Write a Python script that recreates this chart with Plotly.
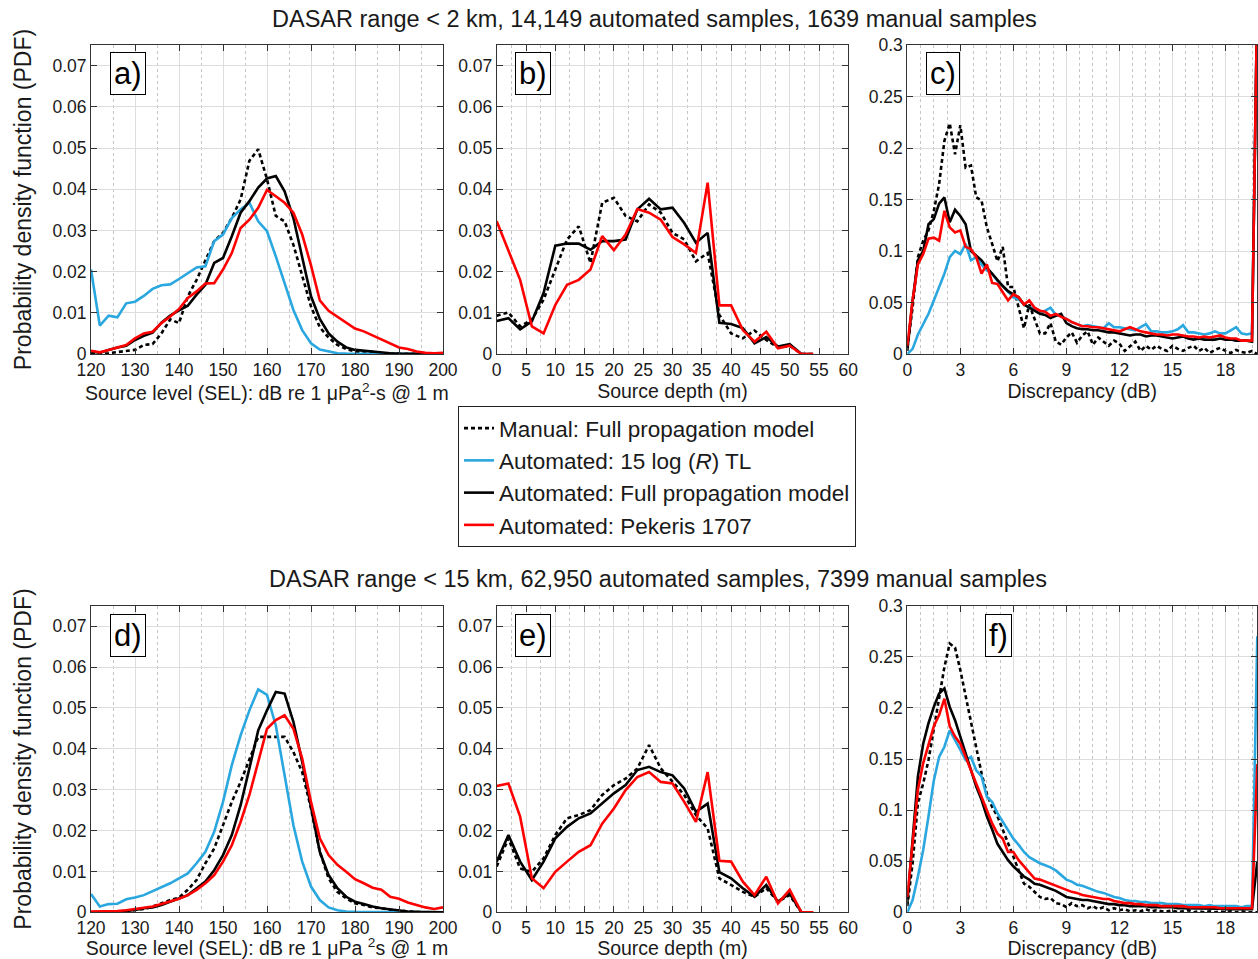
import plotly.graph_objects as go

# ---------------- data ----------------
x_sel = list(range(120, 201, 2))          # source level bins (dB)
x_depth = list(range(0, 55, 2))           # source depth bins (m)
x_disc = [0.0, 0.3, 0.6, 0.9, 1.2, 1.5, 1.8, 2.1, 2.4, 2.7, 3.0, 3.3, 3.6, 3.9, 4.2, 4.5, 4.8,
          5.1, 5.4, 5.7, 6.0, 6.3, 6.6, 6.9, 7.2, 7.5, 7.8, 8.1, 8.4, 8.7, 9.0, 9.3, 9.6, 9.9,
          10.2, 10.5, 10.8, 11.1, 11.4, 11.7, 12.0, 12.3, 12.6, 12.9, 13.2, 13.5, 13.8, 14.1,
          14.4, 14.7, 15.0, 15.3, 15.6, 15.9, 16.2, 16.5, 16.8, 17.1, 17.4, 17.7, 18.0, 18.3,
          18.6, 18.9, 19.2, 19.5, 19.8]

# Panel a (< 2 km) source level
man_a = [0, 0, 0.0002, 0.0005, 0.0008, 0.0010, 0.0022, 0.0024, 0.0050, 0.0084,
         0.0075, 0.0140, 0.0180, 0.0229, 0.0274, 0.0294, 0.0330, 0.0375, 0.0469, 0.0497,
         0.0424, 0.0335, 0.0322, 0.0265, 0.0190, 0.0115, 0.0065, 0.0040, 0.0022, 0.0012,
         0.0006, 0.0004, 0.0005, 0.0002, 0.0001, 0.0001, 0, 0, 0, 0, 0]
tl15_a = [0.0205, 0.0069, 0.0093, 0.0089, 0.0123, 0.0127, 0.0141, 0.0158, 0.0167, 0.0169,
          0.0182, 0.0197, 0.0210, 0.0213, 0.0274, 0.0290, 0.0330, 0.0351, 0.0367, 0.0322,
          0.0298, 0.0237, 0.0172, 0.0107, 0.0058, 0.0026, 0.0011, 0.0006, 0.0002, 0.0001,
          0.0001, 0.0001, 0, 0, 0, 0, 0, 0, 0, 0, 0]
full_a = [0.0006, 0.0003, 0.0010, 0.0016, 0.0020, 0.0034, 0.0044, 0.0052, 0.0076, 0.0093,
          0.0106, 0.0117, 0.0144, 0.0168, 0.0221, 0.0233, 0.0286, 0.0343, 0.0371, 0.0404,
          0.0426, 0.0432, 0.0395, 0.0330, 0.0235, 0.0140, 0.0085, 0.0050, 0.0030, 0.0016,
          0.0010, 0.0008, 0.0006, 0.0003, 0.0002, 0.0001, 0.0001, 0, 0, 0, 0]
pek_a = [0.0008, 0.0004, 0.0010, 0.0016, 0.0022, 0.0038, 0.0050, 0.0054, 0.0075, 0.0091,
         0.0109, 0.0136, 0.0152, 0.0171, 0.0172, 0.0205, 0.0245, 0.0306, 0.0326, 0.0355,
         0.0398, 0.0383, 0.0367, 0.0343, 0.0290, 0.0215, 0.0130, 0.0105, 0.0090, 0.0075,
         0.0062, 0.0055, 0.0045, 0.0035, 0.0026, 0.0016, 0.0012, 0.0006, 0.0003, 0.0002, 0.0003]

# Panel b (< 2 km) source depth
man_b = [0.0093, 0.0101, 0.0067, 0.0083, 0.0132, 0.0205, 0.0278, 0.0310, 0.0221, 0.0367,
         0.0379, 0.0335, 0.0322, 0.0363, 0.0343, 0.0294, 0.0278, 0.0225, 0.0245, 0.0095,
         0.0050, 0.0038, 0.0057, 0.0034, 0.0016, 0.0020, 0, 0]
full_b = [0.0080, 0.0087, 0.0060, 0.0079, 0.0148, 0.0263, 0.0268, 0.0268, 0.0253, 0.0274,
          0.0274, 0.0278, 0.0351, 0.0377, 0.0351, 0.0355, 0.0318, 0.0270, 0.0294, 0.0076,
          0.0073, 0.0063, 0.0026, 0.0041, 0.0018, 0.0024, 0, 0]
pek_b = [0.0322, 0.0253, 0.0180, 0.0067, 0.0050, 0.0119, 0.0168, 0.0180, 0.0205, 0.0286,
         0.0252, 0.0290, 0.0352, 0.0343, 0.0326, 0.0284, 0.0266, 0.0245, 0.0416, 0.0118,
         0.0118, 0.0058, 0.0030, 0.0054, 0.0014, 0.0020, 0, 0]

# Panel c (< 2 km) discrepancy
man_c = [0.006, 0.045, 0.094, 0.110, 0.120, 0.139, 0.165, 0.207, 0.224, 0.194, 0.222, 0.181,
         0.183, 0.152, 0.149, 0.123, 0.107, 0.090, 0.104, 0.065, 0.065, 0.045, 0.025, 0.048,
         0.035, 0.020,
         0.020, 0.030, 0.012, 0.009, 0.016, 0.021, 0.011, 0.018, 0.022, 0.009, 0.016, 0.012,
         0.008, 0.013, 0.010, 0.003, 0.008, 0.012, 0.003, 0.008, 0.004, 0.008, 0.005, 0.003,
         0.008, 0.005, 0.003, 0.006, 0.008, 0.003, 0.006, 0.001, 0.004, 0.006, 0.003, 0.001,
         0.004, 0.002, 0.001, 0.003, 0.0]
tl15_c = [0.0, 0.005, 0.019, 0.029, 0.039, 0.052, 0.065, 0.078, 0.094, 0.100, 0.097, 0.107,
          0.091, 0.094, 0.087, 0.081, 0.078, 0.071, 0.066, 0.060, 0.055, 0.053, 0.048, 0.045,
          0.044, 0.040,
          0.042, 0.045, 0.038, 0.037, 0.034, 0.031, 0.029, 0.027, 0.028, 0.027, 0.026, 0.025,
          0.030, 0.026, 0.026, 0.025, 0.024, 0.023, 0.026, 0.029, 0.022, 0.022, 0.021, 0.021,
          0.022, 0.024, 0.028, 0.021, 0.021, 0.020, 0.019, 0.020, 0.022, 0.020, 0.020, 0.023,
          0.026, 0.020, 0.019, 0.020, 0.35]
full_c = [0.003, 0.052, 0.091, 0.100, 0.126, 0.131, 0.146, 0.152, 0.128, 0.140, 0.134, 0.126,
          0.100, 0.095, 0.091, 0.084, 0.078, 0.071, 0.066, 0.061, 0.058, 0.055, 0.048, 0.045,
          0.042, 0.039,
          0.038, 0.035, 0.037, 0.039, 0.030, 0.027, 0.025, 0.024, 0.024, 0.023, 0.023, 0.022,
          0.021, 0.021, 0.020, 0.019, 0.018, 0.019, 0.019, 0.017, 0.018, 0.018, 0.017, 0.016,
          0.015, 0.016, 0.017, 0.015, 0.014, 0.015, 0.014, 0.014, 0.014, 0.015, 0.014, 0.014,
          0.013, 0.013, 0.013, 0.012, 0.35]
pek_c = [0.008, 0.052, 0.087, 0.097, 0.112, 0.113, 0.110, 0.139, 0.123, 0.118, 0.120, 0.104,
         0.102, 0.094, 0.078, 0.087, 0.069, 0.068, 0.060, 0.052, 0.058, 0.055, 0.048, 0.052,
         0.045, 0.042,
         0.041, 0.037, 0.039, 0.036, 0.034, 0.031, 0.029, 0.027, 0.027, 0.026, 0.026, 0.025,
         0.024, 0.023, 0.022, 0.024, 0.026, 0.024, 0.022, 0.021, 0.020, 0.019, 0.019, 0.018,
         0.019, 0.019, 0.018, 0.017, 0.017, 0.016, 0.017, 0.016, 0.017, 0.018, 0.016, 0.015,
         0.015, 0.013, 0.013, 0.013, 0.35]

# Panel d (< 15 km) source level
man_d = [0, 0, 0, 0, 0.0002, 0.0006, 0.0008, 0.0014, 0.0022, 0.0030,
         0.0036, 0.0055, 0.0079, 0.0120, 0.0156, 0.0213, 0.0270, 0.0319, 0.0376, 0.0429,
         0.0429, 0.0429, 0.0429, 0.0392, 0.0343, 0.0254, 0.0148, 0.0083, 0.0050, 0.0034,
         0.0022, 0.0018, 0.0012, 0.0010, 0.0006, 0.0004, 0.0002, 0.0001, 0, 0, 0]
tl15_d = [0.0045, 0.0014, 0.0020, 0.0021, 0.0032, 0.0036, 0.0042, 0.0052, 0.0060, 0.0071,
          0.0083, 0.0095, 0.0120, 0.0148, 0.0197, 0.0270, 0.0360, 0.0433, 0.0494, 0.0545,
          0.0532, 0.0457, 0.0335, 0.0213, 0.0124, 0.0063, 0.0030, 0.0012, 0.0005, 0.0002,
          0.0001, 0.0001, 0.0001, 0, 0, 0, 0, 0, 0, 0, 0]
full_d = [0.0, 0.0001, 0.0001, 0.0001, 0.0003, 0.0006, 0.0010, 0.0012, 0.0018, 0.0026,
          0.0034, 0.0042, 0.0059, 0.0075, 0.0103, 0.0140, 0.0189, 0.0262, 0.0352, 0.0445,
          0.0494, 0.0539, 0.0535, 0.0466, 0.0368, 0.0254, 0.0148, 0.0091, 0.0059, 0.0038,
          0.0026, 0.0020, 0.0014, 0.0010, 0.0007, 0.0004, 0.0002, 0.0001, 0.0001, 0, 0]
pek_d = [0.0002, 0.0002, 0.0002, 0.0003, 0.0005, 0.0008, 0.0011, 0.0014, 0.0020, 0.0026,
         0.0033, 0.0042, 0.0055, 0.0071, 0.0091, 0.0124, 0.0164, 0.0221, 0.0287, 0.0368,
         0.0449, 0.0470, 0.0482, 0.0449, 0.0376, 0.0270, 0.0181, 0.0140, 0.0116, 0.0099,
         0.0081, 0.0071, 0.0060, 0.0055, 0.0038, 0.0033, 0.0024, 0.0018, 0.0012, 0.0008, 0.0012]

# Panel e (< 15 km) source depth
man_e = [0.0112, 0.0181, 0.0107, 0.0099, 0.0132, 0.0189, 0.0230, 0.0238, 0.0250, 0.0287,
         0.0311, 0.0327, 0.0352, 0.0409, 0.0352, 0.0319, 0.0287, 0.0238, 0.0205, 0.0083,
         0.0067, 0.0050, 0.0038, 0.0059, 0.0026, 0.0042, 0, 0]
full_e = [0.0124, 0.0189, 0.0124, 0.0079, 0.0124, 0.0181, 0.0209, 0.0230, 0.0242, 0.0266,
          0.0291, 0.0311, 0.0348, 0.0356, 0.0343, 0.0335, 0.0303, 0.0246, 0.0266, 0.0098,
          0.0083, 0.0059, 0.0038, 0.0067, 0.0026, 0.0046, 0, 0]
pek_e = [0.0309, 0.0315, 0.0234, 0.0083, 0.0059, 0.0099, 0.0124, 0.0148, 0.0164, 0.0217,
         0.0254, 0.0299, 0.0331, 0.0343, 0.0319, 0.0315, 0.0270, 0.0221, 0.0343, 0.0126,
         0.0124, 0.0075, 0.0042, 0.0087, 0.0022, 0.0055, 0, 0]

# Panel f (< 15 km) discrepancy
man_f = [0.006, 0.048, 0.107, 0.126, 0.149, 0.178, 0.211, 0.240, 0.263, 0.259, 0.237, 0.211,
         0.185, 0.159, 0.136, 0.116, 0.103, 0.094, 0.081, 0.067, 0.054, 0.041, 0.028, 0.025,
         0.020, 0.015,
         0.013, 0.014, 0.009, 0.008, 0.005, 0.009, 0.006, 0.007, 0.004, 0.006, 0.003, 0.005,
         0.002, 0.004, 0.002, 0.003, 0.001, 0.002, 0.001, 0.003, 0.001, 0.002, 0.001, 0.001,
         0.002, 0.0, 0.001, 0.002, 0.0, 0.001, 0.0, 0.001, 0.0, 0.001, 0.0, 0.001, 0.0, 0.001,
         0.0, 0.0, 0.0]
tl15_f = [0.0, 0.012, 0.035, 0.061, 0.094, 0.129, 0.152, 0.162, 0.178, 0.169, 0.159, 0.149,
          0.152, 0.139, 0.133, 0.113, 0.108, 0.097, 0.089, 0.081, 0.072, 0.066, 0.059, 0.054,
          0.051, 0.048,
          0.046, 0.044, 0.041, 0.036, 0.032, 0.030, 0.027, 0.026, 0.024, 0.022, 0.020, 0.019,
          0.017, 0.015, 0.014, 0.012, 0.011, 0.011, 0.010, 0.010, 0.009, 0.009, 0.009, 0.008,
          0.008, 0.008, 0.007, 0.007, 0.007, 0.007, 0.006, 0.007, 0.006, 0.006, 0.006, 0.006,
          0.006, 0.005, 0.006, 0.006, 0.27]
full_f = [0.009, 0.074, 0.133, 0.165, 0.185, 0.201, 0.214, 0.219, 0.201, 0.188, 0.172, 0.156,
          0.139, 0.123, 0.110, 0.094, 0.081, 0.067, 0.059, 0.051, 0.045, 0.040, 0.035, 0.032,
          0.028, 0.027,
          0.025, 0.023, 0.021, 0.018, 0.015, 0.014, 0.013, 0.012, 0.012, 0.011, 0.010, 0.009,
          0.008, 0.008, 0.007, 0.007, 0.006, 0.006, 0.006, 0.006, 0.005, 0.005, 0.005, 0.005,
          0.005, 0.004, 0.004, 0.004, 0.004, 0.004, 0.004, 0.0035, 0.0035, 0.0035, 0.003, 0.003,
          0.003, 0.003, 0.003, 0.003, 0.05]
pek_f = [0.015, 0.064, 0.120, 0.146, 0.165, 0.182, 0.193, 0.209, 0.182, 0.172, 0.165, 0.152,
         0.139, 0.126, 0.113, 0.100, 0.087, 0.077, 0.072, 0.059, 0.059, 0.051, 0.045, 0.038,
         0.033, 0.032,
         0.030, 0.028, 0.026, 0.024, 0.022, 0.020, 0.019, 0.017, 0.016, 0.015, 0.014, 0.013,
         0.013, 0.011, 0.010, 0.009, 0.009, 0.008, 0.008, 0.007, 0.007, 0.007, 0.006, 0.006,
         0.006, 0.006, 0.006, 0.005, 0.005, 0.005, 0.005, 0.005, 0.005, 0.004, 0.004, 0.004,
         0.004, 0.004, 0.004, 0.004, 0.145]

series_names = ["Manual: Full propagation model",
                "Automated: 15 log (<i>R</i>) TL",
                "Automated: Full propagation model",
                "Automated: Pekeris 1707"]
top_title = "DASAR range < 2 km, 14,149 automated samples, 1639 manual samples"
bot_title = "DASAR range < 15 km, 62,950 automated samples, 7399 manual samples"

# ---------------- styling ----------------
FONT = "Liberation Sans, Arial, sans-serif"
BLUE = "#2AA7DF"
RED = "#FF0000"
BLACK = "#000000"
LW = 2.6
styles = [dict(color=BLACK, width=LW, dash="4px,3px"),
          dict(color=BLUE, width=LW),
          dict(color=BLACK, width=LW),
          dict(color=RED, width=LW)]

W, H = 1258, 959
colx = [(91, 443), (496.7, 848.3), (907.3, 1257.3)]
rowy = [(45, 354), (605.7, 912.3)]

fig = go.Figure()

panels = [
    (0, 0, x_sel, [man_a, tl15_a, full_a, pek_a], "a)", "Source level (SEL): dB re 1 μPa<sup>2</sup>-s @ 1 m"),
    (0, 1, x_depth, [man_b, None, full_b, pek_b], "b)", "Source depth (m)"),
    (0, 2, x_disc, [man_c, tl15_c, full_c, pek_c], "c)", "Discrepancy (dB)"),
    (1, 0, x_sel, [man_d, tl15_d, full_d, pek_d], "d)", "Source level (SEL): dB re 1 μPa <sup>2</sup>s @ 1 m"),
    (1, 1, x_depth, [man_e, None, full_e, pek_e], "e)", "Source depth (m)"),
    (1, 2, x_disc, [man_f, tl15_f, full_f, pek_f], "f)", "Discrepancy (dB)"),
]

xcfg = {0: dict(range=[120, 200], dtick=10, tick0=120, minor=5),
        1: dict(range=[0, 60], dtick=5, tick0=0, minor=2.5),
        2: dict(range=[0, 19.8], dtick=3, tick0=0, minor=0.75)}
ycfg = {0: dict(range=[0, 0.075], dtick=0.01), 1: dict(range=[0, 0.075], dtick=0.01),
        2: dict(range=[0, 0.3], dtick=0.05)}

label_pos = {"a)": (127.5, 73.5), "b)": (533, 73.5), "c)": (943, 73.5),
             "d)": (127.5, 635), "e)": (533, 635), "f)": (998.5, 635)}

annotations = []
for i, (r, c, xs, ser, lab, xtitle) in enumerate(panels):
    k = i + 1
    xa = "x" if k == 1 else f"x{k}"
    ya = "y" if k == 1 else f"y{k}"
    for j, ys in enumerate(ser):
        if ys is None:
            continue
        fig.add_trace(go.Scatter(x=xs, y=ys, mode="lines", line=styles[j],
                                 name=series_names[j], showlegend=(k == 1),
                                 xaxis=xa, yaxis=ya, cliponaxis=True))
    x0, x1 = colx[c]
    y0, y1 = rowy[r]
    xc = xcfg[c]
    yc = ycfg[c]
    axkey = "xaxis" if k == 1 else f"xaxis{k}"
    aykey = "yaxis" if k == 1 else f"yaxis{k}"
    fig.layout[axkey] = dict(
        domain=[x0 / W, x1 / W], anchor=ya, range=xc["range"], dtick=xc["dtick"],
        tick0=xc["tick0"], showgrid=True, gridcolor="#DDDDDD", gridwidth=1,
        zeroline=False, showline=True, linecolor="#333333", linewidth=1, mirror="allticks",
        ticks="inside", ticklen=6, tickcolor="#333333",
        tickfont=dict(family=FONT, size=17.5, color="#1a1a1a"),
        minor=dict(dtick=xc["minor"], tick0=xc["tick0"], showgrid=True, gridcolor="#C4C4C4",
                   griddash="dot", gridwidth=1, ticks=""),
        title=dict(text=xtitle, font=dict(family=FONT, size=19.5, color="#1a1a1a"), standoff=2),
        automargin=False)
    ydict = dict(
        domain=[1 - y1 / H, 1 - y0 / H], anchor=xa, range=yc["range"], dtick=yc["dtick"],
        tick0=0, showgrid=True, gridcolor="#DDDDDD", gridwidth=1, zeroline=False,
        showline=True, linecolor="#333333", linewidth=1, mirror="allticks",
        ticks="inside", ticklen=6, tickcolor="#333333",
        tickfont=dict(family=FONT, size=17.5, color="#1a1a1a"),
        automargin=False)
    if c == 0:
        ydict["title"] = dict(text="Probability density function (PDF)",
                              font=dict(family=FONT, size=23, color="#1a1a1a"), standoff=14)
    fig.layout[aykey] = ydict
    lx, ly = label_pos[lab]
    annotations.append(dict(text=lab, x=lx / W, y=1 - ly / H, xref="paper", yref="paper",
                            xanchor="center", yanchor="middle", showarrow=False,
                            font=dict(family=FONT, size=31, color="#000"),
                            bordercolor="#000", borderwidth=1, borderpad=3, bgcolor="white"))

annotations.append(dict(text=top_title, x=654 / W, y=1 - 19 / H, xref="paper", yref="paper",
                        xanchor="center", yanchor="middle", showarrow=False,
                        font=dict(family=FONT, size=23.5, color="#1a1a1a")))
annotations.append(dict(text=bot_title, x=657.5 / W, y=1 - 579 / H, xref="paper", yref="paper",
                        xanchor="center", yanchor="middle", showarrow=False,
                        font=dict(family=FONT, size=23.5, color="#1a1a1a")))

fig.update_layout(
    width=W, height=H, margin=dict(l=0, r=0, t=0, b=0),
    paper_bgcolor="white", plot_bgcolor="white",
    annotations=annotations,
    legend=dict(x=657 / W, y=1 - 476.5 / H, xanchor="center", yanchor="middle",
                bordercolor="#222", borderwidth=1, bgcolor="white",
                font=dict(family=FONT, size=22.5, color="#1a1a1a"), traceorder="normal"),
)

fig.write_html("out.html")
